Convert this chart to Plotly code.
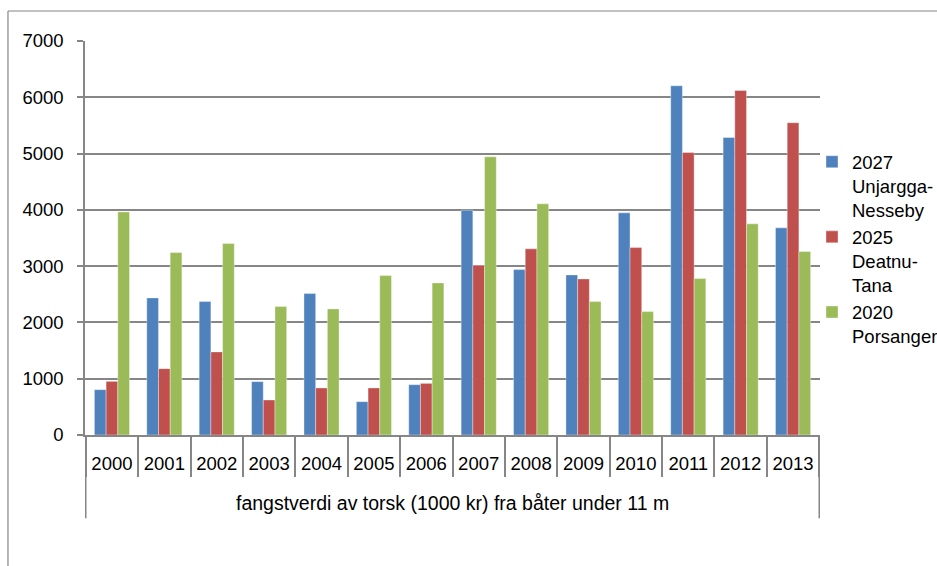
import plotly.graph_objects as go

group_label = "fangstverdi av torsk (1000 kr) fra båter under 11 m"
years = ["2000", "2001", "2002", "2003", "2004", "2005", "2006",
         "2007", "2008", "2009", "2010", "2011", "2012", "2013"]

unjargga = [805, 2436, 2370, 948, 2512, 592, 894, 3993, 2939, 2844, 3947, 6204, 5285, 3680]
deatnu = [953, 1179, 1476, 622, 836, 836, 917, 3015, 3307, 2773, 3330, 5019, 6121, 5547]
porsanger = [3964, 3241, 3401, 2281, 2240, 2832, 2702, 4942, 4107, 2370, 2192, 2779, 3751, 3259]

series_names = ["2027<br>Unjargga-<br>Nesseby", "2025<br>Deatnu-<br>Tana", "2020<br>Porsanger"]
series_values = [unjargga, deatnu, porsanger]
series_colors = ["#4F81BD", "#C0504D", "#9BBB59"]

FONT = "Liberation Sans"
GRAY = "#868686"

fig = go.Figure()
for name, vals, col in zip(series_names, series_values, series_colors):
    fig.add_trace(go.Bar(
        x=years, y=vals, name=name,
        marker=dict(color=col, line=dict(color="rgba(255,255,255,0.45)", width=0.8)),
    ))

fig.update_layout(
    width=937, height=566,
    margin=dict(l=85, r=117, t=41, b=131, autoexpand=False),
    paper_bgcolor="white", plot_bgcolor="white",
    barmode="group", bargap=0.33, bargroupgap=0,
    font=dict(family=FONT, size=18.5, color="black"),
    showlegend=True,
    legend=dict(
        xref="container", yref="container",
        x=0.8666, y=0.747, xanchor="left", yanchor="top",
        traceorder="normal", valign="top",
        font=dict(family=FONT, size=18.5, color="black"),
        bgcolor="rgba(0,0,0,0)", itemwidth=30,
    ),
    xaxis=dict(
        type="category", automargin=False,
        showline=True, linecolor=GRAY, linewidth=1.5,
        ticks="outside", ticklen=40, tickcolor=GRAY, tickwidth=1.5,
        tickson="boundaries",
        ticklabelstandoff=11,
        showgrid=False,
        tickfont=dict(family=FONT, size=18.5, color="black"),
    ),
    yaxis=dict(
        range=[0, 7000], dtick=1000, automargin=False,
        showline=True, linecolor=GRAY, linewidth=1.5,
        ticks="outside", ticklen=6, tickcolor=GRAY, tickwidth=1.5,
        showgrid=True, gridcolor=GRAY, gridwidth=1.5,
        zeroline=False,
        ticklabelstandoff=10,
        tickfont=dict(family=FONT, size=18.5, color="black"),
    ),
)

# outer category label + its side dividers
fig.add_annotation(
    text=group_label, xref="paper", yref="paper", x=0.5, y=-0.1726,
    xanchor="center", yanchor="middle", showarrow=False,
    font=dict(family=FONT, size=19.5, color="black"),
)
for xb in (-0.5, len(years) - 0.5):
    fig.add_shape(type="line", xref="x", yref="paper", x0=xb, x1=xb,
                  y0=0, y1=-0.211, line=dict(color=GRAY, width=1.5))

# chart-area frame (left and top edges visible)
fig.add_shape(type="line", xref="paper", yref="paper",
              x0=-0.1048, x1=-0.1048, y0=1.0761, y1=-0.45,
              line=dict(color=GRAY, width=1.2))
fig.add_shape(type="line", xref="paper", yref="paper",
              x0=-0.1048, x1=1.3, y0=1.0761, y1=1.0761,
              line=dict(color=GRAY, width=1.2))

fig.write_html(
    "out.html",
    config={"displayModeBar": False},
    post_script="document.body.style.margin='0';document.body.style.overflow='hidden';",
)
